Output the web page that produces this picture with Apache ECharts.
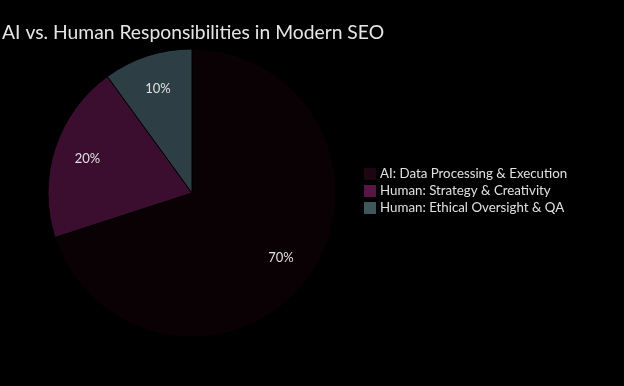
<!DOCTYPE html>
<html><head><meta charset="utf-8">
<script src="https://cdn.jsdelivr.net/npm/echarts@6/dist/echarts.min.js"></script>
<style>html,body{margin:0;padding:0;background:#000;}#c{width:624px;height:386px;}</style>
</head><body><div id="c"></div>
<script>
const categories = ["AI: Data Processing & Execution", "Human: Strategy & Creativity", "Human: Ethical Oversight & QA"];
const values = [70, 20, 10];
const sliceColors = ["#0a0104", "#3b0e2f", "#2e3e45"];
const legendColors = ["#1c0612", "#5a1547", "#3f565c"];

const chart = echarts.init(document.getElementById('c'), null, {renderer: 'canvas'});
const pieData = categories.map((n, i) => ({name: n, value: values[i], itemStyle: {color: sliceColors[i]}}));
const labelData = categories.map((n, i) => ({name: n, value: values[i]}));
chart.setOption({
  backgroundColor: '#000',
  animation: false,
  title: {
    text: 'AI vs. Human Responsibilities in Modern SEO',
    left: -3, top: 18,
    textStyle: {color: '#e6e6e6', fontSize: 19.3, fontWeight: 'normal', fontFamily: 'Lato'}
  },
  legend: {
    orient: 'vertical', left: 357, top: 161,
    itemWidth: 14, itemHeight: 14, itemGap: 1,
    icon: 'rect',
    textStyle: {color: '#e0e0e0', fontSize: 13.3, fontFamily: 'Lato', padding: [0, 0, 0, -2]},
    data: categories.map((n, i) => ({name: n, itemStyle: {color: legendColors[i]}}))
  },
  series: [
    {
      type: 'pie', center: [192, 193], radius: [0, 144],
      startAngle: 90, clockwise: true, silent: true,
      itemStyle: {borderColor: '#000', borderWidth: 1},
      label: {show: false}, labelLine: {show: false},
      data: pieData
    },
    {
      type: 'pie', center: [192, 193], radius: [70, 144],
      startAngle: 90, clockwise: true, silent: true,
      legendHoverLink: false,
      itemStyle: {color: 'rgba(0,0,0,0)', borderWidth: 0},
      label: {show: true, position: 'inside', formatter: '{d}%', color: '#e0e0e0', fontSize: 13, fontFamily: 'Lato'},
      labelLine: {show: false},
      data: labelData
    }
  ]
});
</script></body></html>
